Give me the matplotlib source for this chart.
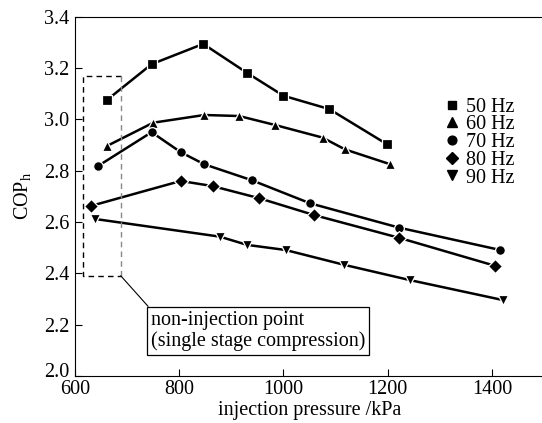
import numpy as np
import matplotlib
matplotlib.use("Agg")
import matplotlib.pyplot as plt
import matplotlib.transforms as mtransforms
from matplotlib.lines import Line2D

plt.rcParams['font.family'] = ['Liberation Serif', 'DejaVu Serif']
plt.rcParams['mathtext.fontset'] = 'custom'
plt.rcParams['mathtext.rm'] = 'Liberation Serif'
plt.rcParams['mathtext.it'] = 'Liberation Serif:italic'

# datos (presion de inyeccion kPa, COP_h)
p_50 = [661, 747, 846, 931, 1000, 1088, 1198]
cop_50 = [3.075, 3.215, 3.294, 3.180, 3.092, 3.040, 2.904]

p_60 = [661, 750, 848, 915, 984, 1075, 1118, 1205]
cop_60 = [2.896, 2.987, 3.017, 3.013, 2.978, 2.929, 2.883, 2.825]

p_70 = [644, 747, 803, 848, 939, 1051, 1222, 1416]
cop_70 = [2.818, 2.950, 2.872, 2.825, 2.763, 2.673, 2.578, 2.491]

p_80 = [631, 803, 864, 953, 1059, 1221, 1405]
cop_80 = [2.663, 2.760, 2.740, 2.693, 2.627, 2.539, 2.430]

p_90 = [638, 878, 930, 1004, 1117, 1242, 1421]
cop_90 = [2.612, 2.543, 2.511, 2.491, 2.433, 2.374, 2.296]

labels = ['50 Hz', '60 Hz', '70 Hz', '80 Hz', '90 Hz']
markers = ['s', '^', 'o', 'D', 'v']
msizes = [6.5, 7.5, 7, 7, 7.5]

fig = plt.figure(figsize=(5.42, 4.23), dpi=100)
ax = fig.add_axes([0.1384, 0.1111, 0.8653, 0.8494])

series = [(p_50, cop_50), (p_60, cop_60), (p_70, cop_70), (p_80, cop_80), (p_90, cop_90)]
for (x, y), m, ms in zip(series, markers, msizes):
    ax.plot(x, y, color='black', lw=1.8, marker=m, ms=ms,
            mfc='black', mec='white', mew=0.9)

# rectangulo punteado (punto sin inyeccion)
ax.plot([688, 615, 615, 688], [3.169, 3.169, 2.39, 2.39], color='black', lw=1.0, ls=(0, (4, 3)))
ax.plot([688, 688], [3.169, 2.39], color='#888888', lw=1.0, ls=(0, (4, 3)))
ax.plot([688, 740], [2.39, 2.272], color='black', lw=0.8)

ax.text(746, 2.175, 'non-injection point\n(single stage compression)', fontsize=14.5,
        ha='left', va='center', linespacing=1.1,
        bbox=dict(boxstyle='square,pad=0.2', fc='white', ec='black', lw=0.9))

# leyenda solo con marcadores
handles = [Line2D([], [], ls='none', marker=m, ms=ms * 0.9, color='black') for m, ms in zip(markers, msizes)]
ax.legend(handles, labels, loc='upper left', bbox_to_anchor=(0.773, 0.797), frameon=False,
          fontsize=14.5, handlelength=0.6, handletextpad=0.4, labelspacing=-0.07,
          borderaxespad=0)

ax.set_xlim(600, 1500)
ax.set_ylim(2.0, 3.4)
ax.set_xticks([600, 800, 1000, 1200, 1400])
ax.set_yticks(np.arange(2.0, 3.41, 0.2))
ax.set_yticklabels(['2.0', '2.2', '2.4', '2.6', '2.8', '3.0', '3.2', '3.4'])
ax.tick_params(direction='in', length=5, width=0.8, labelsize=14.5, pad=4)
ax.tick_params(axis='x', pad=3)
for s in ax.spines.values():
    s.set_linewidth(0.8)
ax.spines['right'].set_visible(False)

# subir un poco la etiqueta 2.0 para que no choque con 600
lab0 = ax.get_yticklabels()[0]
lab0.set_transform(lab0.get_transform() + mtransforms.ScaledTranslation(0, 4 / 72, fig.dpi_scale_trans))

ax.set_xlabel('injection pressure /kPa', fontsize=14.5, labelpad=1)
ax.set_ylabel(r'COP$_\mathrm{h}$', fontsize=14.5, labelpad=8)

fig.savefig('out.png', dpi=100)
